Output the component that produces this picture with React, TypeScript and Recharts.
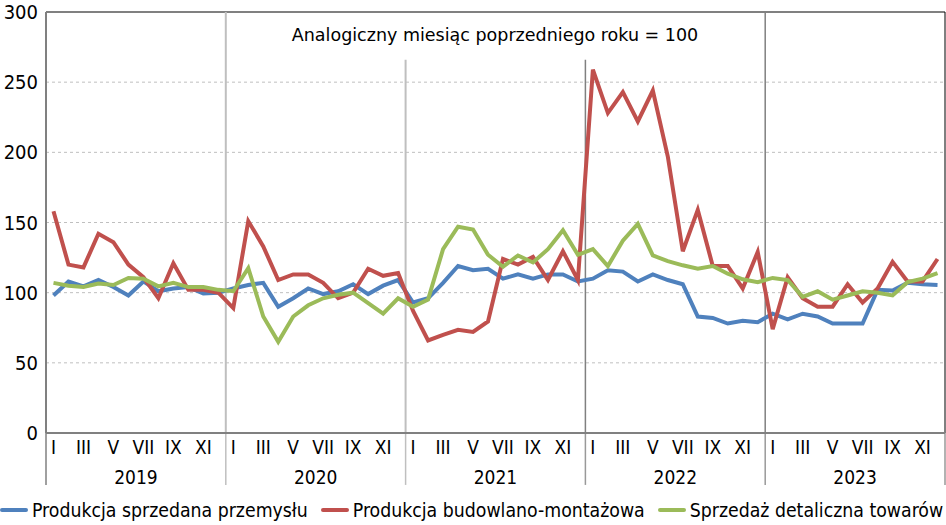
import React from 'react';
import {
  LineChart,
  Line,
  XAxis,
  YAxis,
  CartesianGrid,
  ReferenceLine,
  Legend,
} from 'recharts';

const YEARS = ['2019', '2020', '2021', '2022', '2023'];
const MONTH_LABELS = ['I', 'II', 'III', 'IV', 'V', 'VI', 'VII', 'VIII', 'IX', 'X', 'XI', 'XII'];
const Y_TICKS = [0, 50, 100, 150, 200, 250, 300];

// przemysł
const industry = [
  98, 108, 104.5, 109, 104, 98, 108, 101, 103, 104, 99.5, 100,
  103, 105.5, 107, 90, 96, 103, 99, 101, 106, 99, 105, 109,
  93, 96, 107, 119, 116, 117, 110, 113, 110, 113, 113, 108,
  110, 116, 115, 108, 113, 109, 106, 83, 82, 78, 80, 79,
  85, 81, 85, 83, 78, 78, 78, 102, 101.5, 107, 106, 105.5,
];

// budownictwo
const construction = [
  158, 120, 118, 142, 136, 120, 111, 96, 121, 102, 102, 100,
  89, 151, 133, 109, 113, 113, 107, 96, 100, 117, 112, 114,
  87, 66, 70, 73.5, 72, 79.5, 124, 120, 125.5, 109, 129.5, 109,
  259, 228, 243, 222, 244, 197, 129.5, 159, 119, 119, 103, 129,
  74, 111, 96, 90, 90, 106, 93, 103, 122, 108, 108, 124,
];

// sprzedaż detaliczna
const retail = [
  107, 105, 104, 106.5, 105.5, 110.5, 110, 104.5, 107, 104, 104, 102,
  101, 117.5, 83, 65, 83, 91, 96, 98.5, 100, 92.5, 85, 96,
  90, 95, 131, 147, 145, 127, 118.5, 126.5, 121.5, 131, 144.5, 127,
  131, 119, 137, 149, 126.5, 122.5, 119.5, 117, 119, 113.5, 109.5, 107.5,
  110.5, 109, 97, 101, 95, 98, 101, 100, 98, 107.5, 110, 114,
];

const SERIES = [
  { key: 'industry', name: 'Produkcja sprzedana przemysłu', color: '#4F81BD' },
  { key: 'construction', name: 'Produkcja budowlano-montażowa', color: '#C0504D' },
  { key: 'retail', name: 'Sprzedaż detaliczna towarów', color: '#9BBB59' },
];

const data = industry.map((v, i) => ({
  t: i,
  industry: v,
  construction: construction[i],
  retail: retail[i],
}));

const N = industry.length;
const monthTicks = data.filter(d => d.t % 2 === 0).map(d => d.t);
const yearCenters = YEARS.map((_, i) => i * 12 + 5.5);
const yearBounds = Array.from({ length: YEARS.length + 1 }, (_, i) => i * 12 - 0.5);

const FONT = '"Liberation Sans Narrow", "DejaVu Sans Condensed", "Roboto Condensed", Roboto, sans-serif';

const LegendContent = () => (
  <div
    style={{
      display: 'flex',
      alignItems: 'center',
      height: 30,
      fontFamily: FONT,
      fontSize: 19.3,
      color: '#000',
      whiteSpace: 'nowrap',
    }}
  >
    {SERIES.map(s => (
      <div key={s.key} style={{ display: 'flex', alignItems: 'center', marginRight: 13, flexShrink: 0 }}>
        <span style={{ display: 'inline-block', width: 28, height: 4, background: s.color, borderRadius: 2, marginRight: 4 }} />
        <span>{s.name}</span>
      </div>
    ))}
  </div>
);

export default function App() {
  return (
    <div style={{ position: 'absolute', left: 0, top: 0, width: 946, height: 525, background: '#fff' }}>
      <LineChart width={946} height={525} data={data} margin={{ top: 12, right: 1, left: 0, bottom: 0 }}>
        <CartesianGrid vertical={false} stroke="#bfbfbf" strokeDasharray="3 3" />
        <XAxis
          xAxisId="m"
          dataKey="t"
          type="number"
          domain={[-0.5, N - 0.5]}
          ticks={monthTicks}
          interval={0}
          tickFormatter={v => MONTH_LABELS[v % 12]}
          tickLine={false}
          axisLine={{ stroke: '#808080', strokeWidth: 2 }}
          tick={{ fill: '#000', fontSize: 19, fontFamily: FONT }}
          height={30}
        />
        <XAxis
          xAxisId="yr"
          dataKey="t"
          type="number"
          domain={[-0.5, N - 0.5]}
          ticks={yearCenters}
          interval={0}
          tickFormatter={v => YEARS[Math.floor(v / 12)]}
          tickLine={false}
          axisLine={false}
          tick={{ fill: '#000', fontSize: 19, fontFamily: FONT }}
          height={32}
        />
        <YAxis
          domain={[0, 300]}
          ticks={Y_TICKS}
          interval={0}
          tickLine={false}
          axisLine={{ stroke: '#808080', strokeWidth: 2 }}
          tick={{ fill: '#000', fontSize: 20, fontFamily: FONT }}
          width={46}
        />
        <ReferenceLine xAxisId="m" y={300} stroke="#808080" strokeWidth={2} />
        <ReferenceLine xAxisId="m" x={N - 0.5} stroke="#000" strokeWidth={1} />
        {/* year separators below the axis */}
        {yearBounds.map((b, i) => (
          <ReferenceLine
            key={`below-${b}`}
            xAxisId="m"
            ifOverflow="visible"
            segment={[{ x: b, y: -37 }, { x: b, y: 0 }]}
            stroke={i === 0 ? '#808080' : i < 3 ? '#bfbfbf' : '#999'}
            strokeWidth={1.5}
          />
        ))}
        <ReferenceLine xAxisId="m" segment={[{ x: 11.5, y: 0 }, { x: 11.5, y: 300 }]} stroke="#bfbfbf" strokeWidth={2} />
        <ReferenceLine xAxisId="m" segment={[{ x: 23.5, y: 0 }, { x: 23.5, y: 266 }]} stroke="#bfbfbf" strokeWidth={2} />
        <ReferenceLine xAxisId="m" segment={[{ x: 35.5, y: 0 }, { x: 35.5, y: 266 }]} stroke="#808080" strokeWidth={1.5} />
        <ReferenceLine xAxisId="m" segment={[{ x: 47.5, y: 0 }, { x: 47.5, y: 300 }]} stroke="#808080" strokeWidth={1.5} />
        {SERIES.map(s => (
          <Line
            key={s.key}
            xAxisId="m"
            type="linear"
            dataKey={s.key}
            name={s.name}
            stroke={s.color}
            strokeWidth={4}
            dot={false}
            isAnimationActive={false}
          />
        ))}
        <Legend verticalAlign="bottom" align="left" height={30} wrapperStyle={{ left: 0, width: 946 }} content={<LegendContent />} />
      </LineChart>
      <div
        style={{
          position: 'absolute',
          left: 0,
          width: 990,
          top: 25,
          textAlign: 'center',
          fontFamily: '"DejaVu Sans", sans-serif',
          fontSize: 17.5,
          lineHeight: '20px',
          color: '#000',
        }}
      >
        Analogiczny miesiąc poprzedniego roku = 100
      </div>
    </div>
  );
}
